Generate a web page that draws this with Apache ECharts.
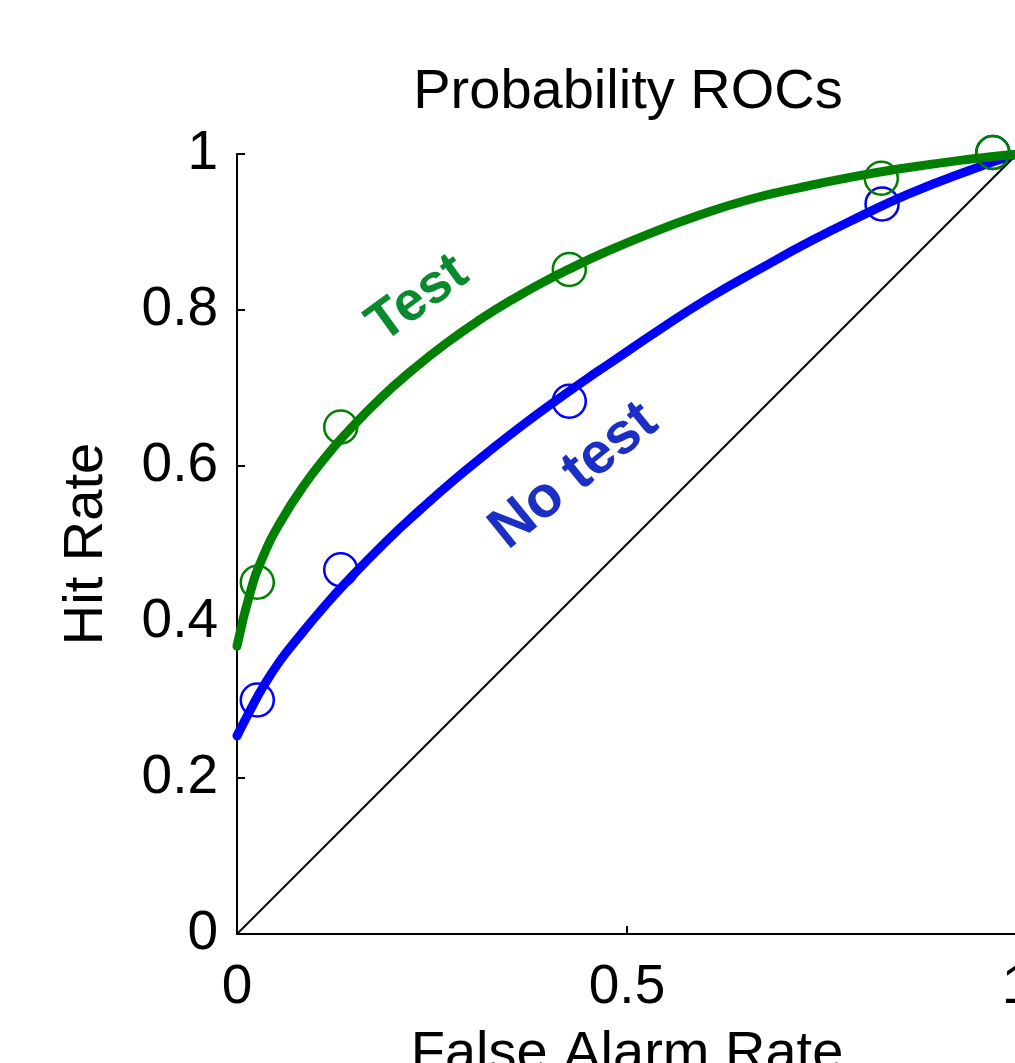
<!DOCTYPE html>
<html>
<head>
<meta charset="utf-8">
<title>Probability ROCs</title>
<style>
  * { margin: 0; padding: 0; }
  body { background: #ffffff; }
  #chart { width: 1015px; height: 1063px; }
</style>
<script src="https://cdn.jsdelivr.net/npm/echarts@6/dist/echarts.min.js"></script>
</head>
<body>
<div id="chart"></div>
<script>
// fitted ROC curves [false alarm, hit]
const testCurve = [
  [0, 0.369], [0.017, 0.438], [0.033, 0.483], [0.055, 0.527], [0.085, 0.574],
  [0.119, 0.618], [0.141, 0.643], [0.183, 0.686], [0.226, 0.724], [0.269, 0.758],
  [0.312, 0.788], [0.354, 0.814], [0.397, 0.838], [0.427, 0.853], [0.465, 0.871],
  [0.529, 0.898], [0.594, 0.922], [0.658, 0.942], [0.722, 0.957], [0.786, 0.970],
  [0.850, 0.981], [0.936, 0.993], [1.0, 1.0]
];
const noTestCurve = [
  [0, 0.254], [0.017, 0.287], [0.033, 0.316], [0.055, 0.350], [0.077, 0.378],
  [0.106, 0.413], [0.141, 0.452], [0.192, 0.504], [0.235, 0.544], [0.277, 0.581],
  [0.321, 0.617], [0.363, 0.650], [0.405, 0.681], [0.449, 0.712], [0.474, 0.729],
  [0.542, 0.775], [0.606, 0.816], [0.671, 0.853], [0.735, 0.888], [0.799, 0.920],
  [0.859, 0.948], [0.936, 0.978], [1.0, 1.0]
];

// observed points
const testPoints = [[0.026, 0.451], [0.133, 0.650], [0.426, 0.852], [0.826, 0.969], [0.969, 1.002]];
const noTestPoints = [[0.026, 0.300], [0.133, 0.467], [0.426, 0.683], [0.827, 0.936], [0.969, 1.002]];

// chance line
const chanceLine = [[0, 0], [1, 1]];

// curve labels
const curveLabels = [
  { pos: [0.232, 0.814], text: 'Test', rotate: 36, color: '#0a8a2e', size: 55 },
  { pos: [0.432, 0.587], text: 'No test', rotate: 39, color: '#1c2fc4', size: 58 }
];

const FONT = '"Liberation Sans", Arial, Helvetica, sans-serif';
const GREEN = '#008000';
const BLUE = '#0000ff';

const chart = echarts.init(document.getElementById('chart'), null, { renderer: 'canvas' });

const axisCommon = {
  type: 'value',
  min: 0,
  max: 1,
  nameLocation: 'middle',
  nameTextStyle: { color: '#000', fontSize: 56, fontFamily: FONT },
  axisLine: { show: true, lineStyle: { color: '#000', width: 2 } },
  axisTick: { show: true, inside: true, length: 8, lineStyle: { color: '#000', width: 2 } },
  axisLabel: { color: '#000', fontSize: 55, fontFamily: FONT, showMaxLabel: true, showMinLabel: true },
  splitLine: { show: false }
};

// open circles, no scatter fade
const pointSeries = (name, data, color, z) => ({
  name: name,
  type: 'scatter',
  data: data,
  clip: false,
  symbol: 'circle',
  symbolSize: 33,
  itemStyle: { color: 'rgba(0,0,0,0)', borderColor: color, borderWidth: 2.5, opacity: 1 },
  z: z
});

const option = {
  backgroundColor: '#ffffff',
  animation: false,
  title: {
    text: 'Probability ROCs',
    left: 628,
    top: 65,
    padding: 0,
    textAlign: 'center',
    textStyle: { color: '#000', fontSize: 56, fontWeight: 'normal', fontFamily: FONT }
  },
  grid: {
    left: 237, top: 154, width: 780, height: 780,
    containLabel: false,
    outerBoundsMode: 'none'
  },
  xAxis: Object.assign({}, axisCommon, {
    name: 'False Alarm Rate',
    nameGap: 93,
    interval: 0.5,
    axisLabel: Object.assign({}, axisCommon.axisLabel, { margin: 26 })
  }),
  yAxis: Object.assign({}, axisCommon, {
    name: 'Hit Rate',
    nameGap: 122,
    interval: 0.2,
    axisLabel: Object.assign({}, axisCommon.axisLabel, { margin: 19 })
  }),
  series: [
    {
      name: 'chance',
      type: 'line',
      data: chanceLine,
      showSymbol: false,
      lineStyle: { color: '#000', width: 2 },
      z: 1
    },
    {
      name: 'No test fit',
      type: 'line',
      data: noTestCurve,
      smooth: 0.5,
      showSymbol: false,
      lineStyle: { color: BLUE, width: 9, cap: 'round' },
      z: 2
    },
    {
      name: 'Test fit',
      type: 'line',
      data: testCurve,
      smooth: 0.5,
      showSymbol: false,
      lineStyle: { color: GREEN, width: 9, cap: 'round' },
      z: 3
    },
    pointSeries('No test', noTestPoints, BLUE, 4),
    pointSeries('Test', testPoints, GREEN, 5),
    {
      // rotated curve names, anchored in data space
      name: 'labels',
      type: 'scatter',
      symbolSize: 0,
      silent: true,
      z: 6,
      itemStyle: { color: 'rgba(0,0,0,0)', opacity: 1 },
      data: curveLabels.map(l => ({
        value: l.pos,
        label: {
          show: true,
          position: 'inside',
          formatter: l.text,
          rotate: l.rotate,
          color: l.color,
          textBorderWidth: 0,
          textBorderColor: 'transparent',
          fontSize: l.size,
          fontWeight: 'bold',
          fontFamily: FONT
        }
      }))
    }
  ]
};

chart.setOption(option);
</script>
</body>
</html>
